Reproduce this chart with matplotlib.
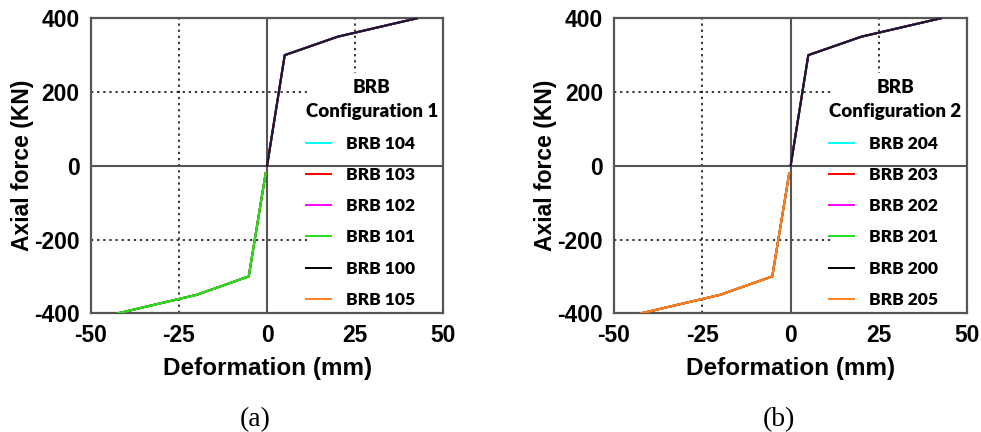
import matplotlib.pyplot as plt
from matplotlib.patches import Rectangle

plt.rcParams["axes.unicode_minus"] = False

# backbone curve (same for every brace)
pos_def = [0, 5, 20, 42.5]
pos_force = [0, 300, 350, 400]
neg_def = [-0.4, -5.2, -20, -42.3]
neg_force = [-20, -300, -350, -400]

labels_a = ["BRB 104", "BRB 103", "BRB 102", "BRB 101", "BRB 100", "BRB 105"]
labels_b = ["BRB 204", "BRB 203", "BRB 202", "BRB 201", "BRB 200", "BRB 205"]
colors = ["#00ffff", "#ff0000", "#ff00ff", "#22e01a", "#000000", "#ff7f1e"]

xticks = [-50, -25, 0, 25, 50]
yticks = [-400, -200, 0, 200, 400]

fig = plt.figure(figsize=(9.81, 4.32), dpi=100)
ax_a = fig.add_axes([0.0925, 0.2748, 0.3595, 0.6829])
ax_b = fig.add_axes([0.6259, 0.2748, 0.3601, 0.6829])


def panel(ax, labels, top_neg, title, tag):
    ax.set_xlim(-50, 50)
    ax.set_ylim(-400, 400)
    ax.set_xticks(xticks)
    ax.set_yticks(yticks)
    ax.tick_params(length=0, pad=8)
    for lab in ax.get_xticklabels() + ax.get_yticklabels():
        lab.set_fontfamily("Liberation Sans")
        lab.set_fontweight("bold")
        lab.set_fontsize(16.5)
    ax.grid(True, color="black", linestyle=(0, (1.5, 2.5)), linewidth=1.1, zorder=1)
    ax.set_axisbelow(True)
    for s in ax.spines.values():
        s.set_color("#555555")
        s.set_linewidth(1.6)
    # white area behind legend hides the grid
    ax.add_patch(Rectangle((0.613, 0.0), 0.387, 0.815, transform=ax.transAxes,
                           facecolor="white", edgecolor="none", zorder=2))
    ax.axhline(0, color="#555555", linewidth=1.5, zorder=3)
    ax.axvline(0, color="#555555", linewidth=1.5, zorder=3)

    for lab, c in zip(labels, colors):
        ax.plot(pos_def, pos_force, color=c, linewidth=1.4, label=lab, zorder=4)
        ax.plot(neg_def, neg_force, color=c, linewidth=1.4, zorder=4)
    ax.plot(pos_def, pos_force, color="#1e1240", linewidth=1.6, zorder=5)
    ax.plot(neg_def, neg_force, color=top_neg, linewidth=1.6, zorder=5)

    ax.set_xlabel("Deformation (mm)", fontfamily="Liberation Sans", fontweight="bold",
                  fontsize=17.5, labelpad=7)
    ax.set_ylabel("Axial force (KN)", fontfamily="Liberation Sans", fontweight="bold",
                  fontsize=16.5, labelpad=0)
    leg = ax.legend(loc="lower left", bbox_to_anchor=(0.565, -0.035), frameon=False,
                    alignment="left",
                    title=title, title_fontproperties={"family": "Lato", "weight": "heavy", "size": 13.5},
                    prop={"family": "Lato", "weight": "heavy", "size": 12.5},
                    handlelength=1.45, handletextpad=0.85, labelspacing=0.88)
    leg.set_zorder(6)
    leg.get_title().set_multialignment("center")
    leg.get_title().set_linespacing(1.5)
    ax.text(0.466, -0.36, tag, transform=ax.transAxes, ha="center", va="center",
            fontfamily="Liberation Serif", fontsize=20)


panel(ax_a, labels_a, colors[3], "BRB\nConfiguration 1", "(a)")
panel(ax_b, labels_b, colors[5], "BRB\nConfiguration 2", "(b)")

fig.savefig("out.png", dpi=100)
